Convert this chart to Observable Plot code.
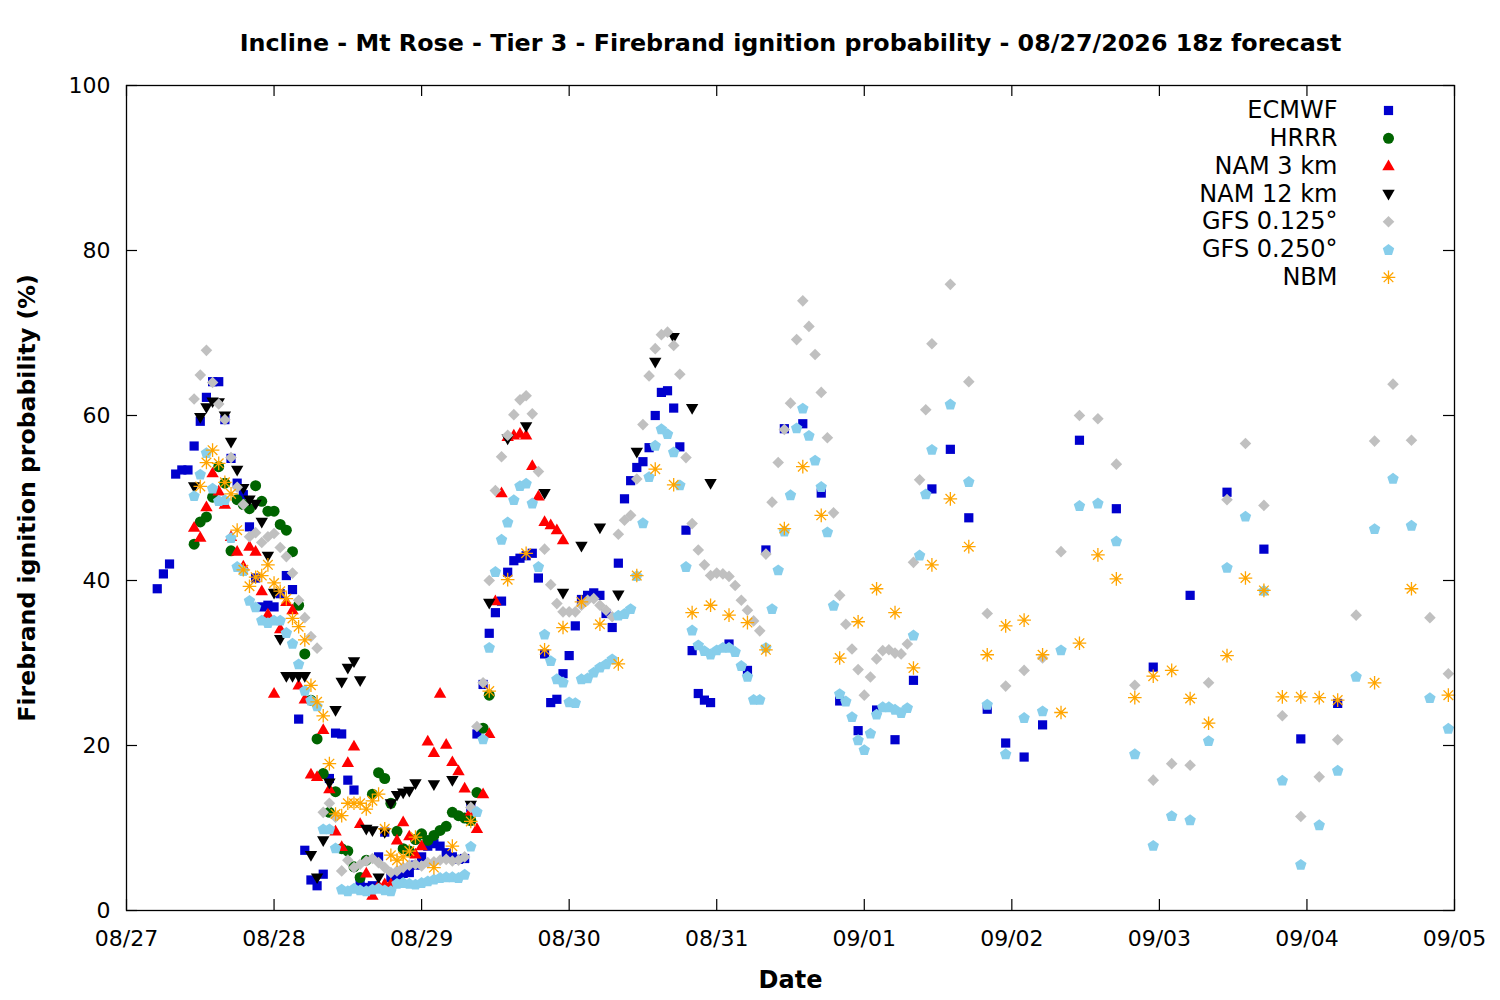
<!DOCTYPE html>
<html><head><meta charset="utf-8">
<script src="https://cdn.jsdelivr.net/npm/d3@7"></script>
<script src="https://cdn.jsdelivr.net/npm/@observablehq/plot@0.6"></script>
<style>body{margin:0;background:#fff}</style>
</head><body><div id="chart"></div>
<script>
// ---------- labels ----------
const chartTitle = "Incline - Mt Rose - Tier 3 - Firebrand ignition probability - 08/27/2026 18z forecast";
const xTitle = "Date";
const yTitle = "Firebrand ignition probability (%)";
const dayTicks = ["08/27","08/28","08/29","08/30","08/31","09/01","09/02","09/03","09/04","09/05"];
const yTicks = [0, 20, 40, 60, 80, 100];
const seriesNames = ["ECMWF","HRRR","NAM 3 km","NAM 12 km","GFS 0.125°","GFS 0.250°","NBM"];
const seriesColors = ["#0000cd","#006400","#ff0000","#000000","#c0c0c0","#87ceeb","#ffa500"];

// ---------- data (hours since 08/27 00:00, probability %) ----------
const ecmwfHours = [5,6,7,8,9,10,11,12,13,14,15,16,17,18,19,20,21,22,23,24,25,26,27,28,29,30,31,32,33,34,35,36,37,38,39,40,41,42,43,44,45,46,47,48,49,50,51,52,53,54,55,56,57,58,59,60,61,62,63,64,65,66,67,68,69,70,71,72,73,74,75,76,77,78,79,80,81,82,83,84,85,86,87,88,89,90,91,92,93,94,95,
 98,101,104,107,110,113,116,119,122,125,128,131,134,137,140,143,146,149,
 155,161,167,173,179,185,191,197];
const ecmwfValues = [39.0,40.8,42.0,52.9,53.4,53.4,56.3,59.3,62.2,64.1,
 64.1,59.5,54.8,51.8,50.4,46.5,40.3,36.8,37.0,36.8,
 38.4,40.6,38.9,23.2,7.3,3.7,3.0,4.4,16.0,21.5,
 21.4,15.8,14.6,3.5,2.8,3.0,6.5,9.5,4.0,4.3,
 4.5,4.6,5.5,6.5,7.8,8.1,7.8,7.0,6.5,6.2,
 6.3,12.5,21.4,27.4,33.6,36.1,37.5,41.0,42.4,42.7,
 43.0,43.3,40.3,31.1,25.2,25.6,28.7,30.9,34.5,37.7,
 38.2,38.5,38.2,36.0,34.3,42.1,49.9,52.1,53.7,54.4,
 56.1,60.0,62.8,63.0,60.9,56.2,46.1,31.5,26.3,25.5,
 25.2,
 32.3,29.1,43.7,58.4,59.0,50.6,25.4,21.8,24.3,20.7,27.9,51.1,55.9,47.6,24.4,20.3,18.6,22.5,
 57.0,48.7,29.5,38.2,50.7,43.8,20.8,25.1];

const hrrrHours = [11,12,13,14,15,16,17,18,19,20,21,22,23,24,25,26,27,28,29,30,31,32,33,34,35,36,37,38,39,40,41,42,43,44,45,46,47,48,49,50,51,52,53,54,55,56,57,58,59];
const hrrrValues = [44.4,47.1,47.7,50.1,53.8,51.8,43.6,49.8,49.2,48.7,
 51.5,49.6,48.4,48.4,46.8,46.1,43.5,37.0,31.1,25.5,
 20.8,16.6,11.9,14.4,7.5,7.2,5.3,4.0,6.1,14.1,
 16.7,16.0,13.0,9.6,7.5,7.2,8.6,9.3,8.5,9.1,
 9.7,10.2,11.9,11.5,11.2,10.9,14.3,22.1,26.1];

const nam3Hours = [11,12,13,14,15,16,17,18,19,20,21,22,23,24,25,26,27,28,29,30,31,32,33,34,35,36,37,38,39,40,41,42,43,44,45,46,47,48,49,50,51,52,53,54,55,56,57,58,59,60,61,62,63,64,65,66,67,68,69,70,71];
const nam3Values = [46.4,45.2,48.9,53.0,50.8,49.2,45.3,43.5,41.7,44.1,
 43.5,38.7,35.9,26.3,34.1,37.4,36.4,27.3,25.6,16.5,
 16.2,21.9,14.7,9.6,7.7,17.9,19.9,10.5,4.5,1.8,
 3.0,3.2,3.2,8.5,10.7,9.0,6.8,7.8,20.5,19.1,
 26.3,20.1,18.0,16.9,14.8,12.0,9.9,14.1,21.4,37.5,
 50.6,57.4,57.6,57.8,57.6,53.9,50.2,47.1,46.7,46.1,
 44.9];

const nam12Hours = [11,12,13,14,15,16,17,18,19,20,21,22,23,24,25,26,27,28,29,30,31,32,33,34,35,36,37,38,39,40,41,42,43,44,45,46,47,
 50,53,56,59,62,65,68,71,74,77,80,83,86,89,92,95];
const nam12Values = [51.4,59.8,61.0,61.7,61.6,60.0,56.8,53.4,51.2,49.8,
 49.3,47.1,43.0,38.5,32.9,28.4,28.4,28.4,28.4,6.7,
 4.0,8.5,15.5,24.3,27.7,29.4,30.2,27.9,9.9,9.7,
 4.0,9.5,13.0,14.0,14.3,14.5,15.4,
 15.3,15.8,12.8,37.3,57.2,58.7,50.6,38.5,44.2,46.4,38.3,55.6,66.5,69.5,60.9,51.8];

const gfsHours = [11,12,13,14,15,16,17,18,19,20,21,22,23,24,25,26,27,28,29,30,31,32,33,34,35,36,37,38,39,40,41,42,43,44,45,46,47,48,49,50,51,52,53,54,55,56,57,58,59,60,61,62,63,64,65,66,67,68,69,70,71,72,73,74,75,76,77,78,79,80,81,82,83,84,85,86,87,88,89,90,91,92,93,94,95,96,97,98,99,100,101,102,103,104,105,106,107,108,109,110,111,112,113,114,115,116,117,118,119,120,121,122,123,124,125,126,127,128,129,130,131,
 134,137,140,143,146,149,152,155,158,161,164,167,170,173,176,179,182,185,188,191,194,197,200,203,206,209,212,215];
const gfs0125Values = [62.0,64.9,67.9,64.0,61.4,59.5,54.9,51.3,49.2,45.3,
 45.8,44.6,45.3,45.7,44.0,42.9,40.9,37.6,35.5,33.2,
 31.8,11.9,13.0,11.3,4.8,6.1,5.2,5.6,6.0,6.3,
 5.8,5.2,4.6,4.8,5.2,5.5,5.6,5.4,5.8,5.9,
 6.1,6.2,6.0,6.1,6.5,12.5,22.3,27.6,40.0,50.9,
 55.0,57.6,60.1,61.9,62.4,60.2,53.2,43.8,39.5,37.2,
 36.2,36.2,36.2,37.0,37.6,37.8,37.0,36.4,35.6,45.6,
 47.3,47.9,52.3,58.9,64.8,68.1,69.8,70.1,68.5,65.0,
 54.9,46.9,43.7,41.9,40.6,40.9,40.8,40.5,39.4,37.6,
 36.4,35.1,33.9,43.2,49.5,54.3,58.3,61.5,69.2,73.9,
 70.8,67.4,62.8,57.3,48.2,38.2,34.7,31.7,29.2,26.1,
 28.3,30.5,31.5,31.6,31.2,31.1,32.3,42.2,52.2,60.7,
 68.7,
 75.9,64.1,36.0,27.2,29.1,30.6,43.5,60.0,59.6,54.1,
 27.3,15.8,17.8,17.6,27.6,49.8,56.6,49.1,23.6,11.4,
 16.2,20.7,35.8,56.9,63.8,57.0,35.5,28.7];
const gfs0250Values = [50.3,52.9,55.5,51.2,49.7,49.8,45.2,41.7,41.2,37.6,
 36.8,35.2,34.9,35.2,35.2,33.7,32.4,29.9,26.7,25.5,
 24.8,9.9,9.9,7.6,2.6,2.4,2.7,2.5,2.4,2.6,
 2.7,2.5,2.4,3.3,3.4,3.3,3.2,3.4,3.6,3.8,
 4.0,4.1,4.1,4.0,4.4,7.8,12.0,20.8,31.9,41.1,
 45.0,47.1,49.8,51.5,51.8,49.4,41.7,33.5,30.3,28.1,
 27.7,25.3,25.2,28.1,28.2,28.9,29.5,29.9,30.5,35.8,
 36.0,36.6,40.6,47.0,52.6,56.4,58.4,57.8,55.6,51.6,
 41.7,34.0,32.2,31.5,31.1,31.6,31.9,31.9,31.4,29.7,
 28.4,25.6,25.6,31.9,36.6,41.3,46.0,50.4,58.5,60.9,
 57.6,54.6,51.4,45.9,37.0,26.3,25.4,23.5,20.7,19.5,
 21.5,23.8,24.7,24.7,24.4,24.0,24.6,33.4,43.1,50.5,
 55.9,
 61.4,52.0,25.0,19.0,23.4,24.2,31.6,49.1,49.4,44.8,
 19.0,7.9,11.5,11.0,20.6,41.6,47.8,38.8,15.8,5.6,
 10.4,17.0,28.4,46.3,52.4,46.7,25.8,22.1];

const nbmHours = [12,13,14,15,16,17,18,19,20,21,22,23,24,25,26,27,28,29,30,31,32,33,34,35,36,37,38,39,40,41,42,43,44,45,46,47,
 50,53,56,59,62,65,68,71,74,77,80,83,86,89,92,95,98,101,104,107,110,113,116,119,122,125,128,131,134,137,140,143,146,149,152,155,158,161,164,167,170,173,176,179,182,185,188,191,194,197,
 203,209,215];
const nbmValues = [51.4,54.3,55.8,54.2,51.9,50.5,46.1,41.3,39.3,40.4,
 40.6,41.9,39.7,38.7,37.8,35.4,34.4,32.8,27.3,25.3,
 23.6,17.8,11.7,11.5,13.0,13.0,13.0,12.3,13.3,14.1,
 9.9,6.7,6.1,6.5,7.2,8.9,
 5.2,7.8,10.8,26.6,40.1,43.3,31.6,34.3,37.4,34.7,
 29.9,40.6,53.5,51.6,36.1,37.0,35.8,34.9,31.6,46.3,
 53.8,47.9,30.6,35.0,39.0,36.1,29.4,41.9,49.9,44.1,
 31.0,34.5,35.2,31.0,24.0,32.4,43.1,40.2,25.8,28.4,
 29.1,25.7,22.7,30.9,40.3,38.8,25.9,25.9,25.8,25.5,
 27.6,39.0,26.1];

// ---------- symbols (gnuplot-like point types) ----------
const symSquare = {draw(c){ c.moveTo(-4.6,-4.6); c.lineTo(4.6,-4.6); c.lineTo(4.6,4.6); c.lineTo(-4.6,4.6); c.closePath(); }};
const symCircle = {draw(c){ c.moveTo(5.5,0); c.arc(0,0,5.5,0,2*Math.PI); c.closePath(); }};
const symTriUp = {draw(c){ c.moveTo(0,-6.6); c.lineTo(6.2,4.1); c.lineTo(-6.2,4.1); c.closePath(); }};
const symTriDown = {draw(c){ c.moveTo(0,6.6); c.lineTo(6.2,-4.1); c.lineTo(-6.2,-4.1); c.closePath(); }};
const symDiamond = {draw(c){ c.moveTo(0,-5.8); c.lineTo(5.8,0); c.lineTo(0,5.8); c.lineTo(-5.8,0); c.closePath(); }};
const symPentagon = {draw(c){ for(let i=0;i<5;i++){ const a=-Math.PI/2+i*2*Math.PI/5; const px=6*Math.cos(a), py=6*Math.sin(a)+0.6; if(i) c.lineTo(px,py); else c.moveTo(px,py);} c.closePath(); }};
const symAsterisk = {draw(c){ for(let i=0;i<4;i++){ const a=i*Math.PI/4; c.moveTo(-6.8*Math.cos(a),-6.8*Math.sin(a)); c.lineTo(6.8*Math.cos(a),6.8*Math.sin(a)); } }};
const seriesSymbols = [symSquare, symCircle, symTriUp, symTriDown, symDiamond, symPentagon, symAsterisk];

// ---------- build ----------
const base = Date.UTC(2026, 7, 27);
const toDate = h => new Date(base + h * 3600000);
const parseDay = d3.utcParse("%Y/%m/%d");
const tickDates = dayTicks.map(s => parseDay("2026/" + s));
const rows = (hours, vals) => hours.map((h, i) => ({t: toDate(h), v: vals[i]}));
const seriesData = [
  rows(ecmwfHours, ecmwfValues),
  rows(hrrrHours, hrrrValues),
  rows(nam3Hours, nam3Values),
  rows(nam12Hours, nam12Values),
  rows(gfsHours, gfs0125Values),
  rows(gfsHours, gfs0250Values),
  rows(nbmHours, nbmValues)
];

const W = 1500, H = 1000, mL = 126, mR = 46, mT = 85, mB = 90;
const fw = W - mL - mR, fh = H - mT - mB;
const tickLen = 11;

const marks = [];
seriesData.forEach((data, i) => {
  const isStar = i === 6;
  marks.push(Plot.dot(data, {
    x: "t", y: "v", r: 5, symbol: seriesSymbols[i],
    fill: isStar ? "none" : seriesColors[i],
    stroke: isStar ? seriesColors[i] : "none",
    strokeWidth: isStar ? 1.3 : 0
  }));
});
// inward ticks, mirrored on all four sides
marks.push(Plot.tickY(yTicks, {y: d => d, insetRight: fw - tickLen, stroke: "black", strokeWidth: 1.2}));
marks.push(Plot.tickY(yTicks, {y: d => d, insetLeft: fw - tickLen, stroke: "black", strokeWidth: 1.2}));
marks.push(Plot.tickX(tickDates, {x: d => d, insetTop: fh - tickLen, stroke: "black", strokeWidth: 1.2}));
marks.push(Plot.tickX(tickDates, {x: d => d, insetBottom: fh - tickLen, stroke: "black", strokeWidth: 1.2}));
marks.push(Plot.frame({stroke: "black", strokeWidth: 1.3}));
marks.push(Plot.axisY(yTicks, {tickSize: 0, tickPadding: 16, tickFormat: d => String(d), fontSize: 22, label: null}));
marks.push(Plot.axisX(tickDates, {tickSize: 0, tickPadding: 20, tickFormat: (d, i) => dayTicks[i], fontSize: 22, label: null}));
// titles
marks.push(Plot.text([chartTitle], {frameAnchor: "top", dy: -42, lineAnchor: "middle", fontSize: 23.8, fontWeight: "bold"}));
marks.push(Plot.text([xTitle], {frameAnchor: "bottom", dy: 70, lineAnchor: "middle", fontSize: 24, fontWeight: "bold"}));
marks.push(Plot.text([yTitle], {frameAnchor: "left", dx: -99, rotate: -90, textAnchor: "middle", lineAnchor: "middle", fontSize: 23.6, fontWeight: "bold"}));
// legend
seriesNames.forEach((name, i) => {
  const dy = 25 + 27.8 * i;
  marks.push(Plot.text([name], {frameAnchor: "top-right", dx: -117, dy, textAnchor: "end", lineAnchor: "middle", fontSize: 24}));
  const isStar = i === 6;
  marks.push(Plot.dot([0], {frameAnchor: "top-right", dx: -66, dy, r: 5, symbol: seriesSymbols[i],
    fill: isStar ? "none" : seriesColors[i], stroke: isStar ? seriesColors[i] : "none", strokeWidth: isStar ? 1.3 : 0}));
});

const chart = Plot.plot({
  width: W, height: H,
  marginLeft: mL, marginRight: mR, marginTop: mT, marginBottom: mB,
  style: {fontFamily: "DejaVu Sans", fontSize: "22px", color: "black", background: "white"},
  x: {type: "utc", domain: [tickDates[0], tickDates[tickDates.length - 1]]},
  y: {domain: [0, 100]},
  marks
});
document.getElementById("chart").appendChild(chart);
</script>
</body></html>
